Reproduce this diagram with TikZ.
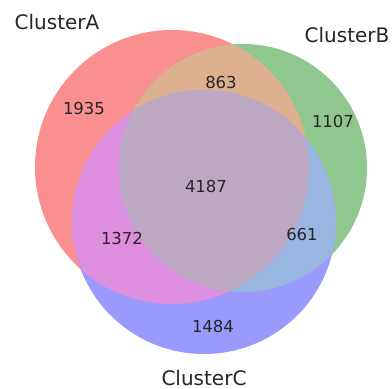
\documentclass[tikz,border=0pt]{standalone}
\usepackage{fontspec}
\setmainfont{DejaVu Sans}
\begin{document}
\begin{tikzpicture}[x=1pt,y=-1pt,
  numlabel/.style={font=\fontsize{16.5}{18}\selectfont, text=black!85, inner sep=0pt},
  setlabel/.style={font=\fontsize{20}{22}\selectfont, text=black!85, inner sep=0pt}]
\definecolor{cA}{HTML}{F98F8F}
\definecolor{cB}{HTML}{8FC78F}
\definecolor{cC}{HTML}{9A9AFC}
\definecolor{cAB}{HTML}{DDB08F}
\definecolor{cAC}{HTML}{DE8EDE}
\definecolor{cBC}{HTML}{98B6E0}
\definecolor{cABC}{HTML}{BDA8C2}
\useasboundingbox (0,0) rectangle (392,389);
\fill[white] (0,0) rectangle (392,389);
\def\circA{(172,167) circle[radius=137]}
\def\circB{(243,168) circle[radius=124]}
\def\circC{(204,222) circle[radius=132]}
\fill[cA] \circA;
\fill[cB] \circB;
\fill[cC] \circC;
\begin{scope}\clip \circA; \fill[cAB] \circB; \end{scope}
\begin{scope}\clip \circA; \fill[cAC] \circC; \end{scope}
\begin{scope}\clip \circB; \fill[cBC] \circC; \end{scope}
\begin{scope}\clip \circA; \clip \circB; \fill[cABC] \circC; \end{scope}
\node[setlabel] (la) at (57,22) {ClusterA};
\node[setlabel] (lb) at (347,35) {ClusterB};
\node[setlabel] (lc) at (204,378) {ClusterC};
\node[numlabel] (n100) at (84,108) {1935};
\node[numlabel] (n110) at (221,82) {863};
\node[numlabel] (n010) at (333,121) {1107};
\node[numlabel] (n111) at (206,186) {4187};
\node[numlabel] (n101) at (122,238) {1372};
\node[numlabel] (n011) at (302,234) {661};
\node[numlabel] (n001) at (213,326) {1484};
\end{tikzpicture}
\end{document}
